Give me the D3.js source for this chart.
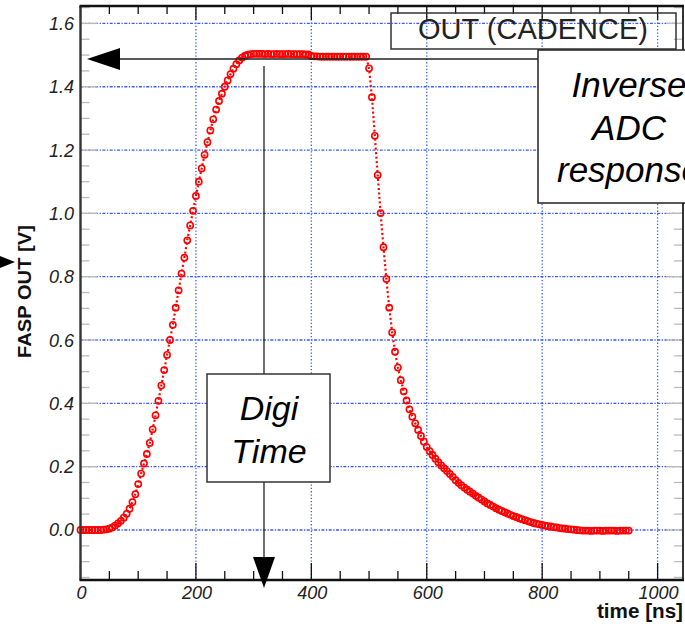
<!DOCTYPE html>
<html><head><meta charset="utf-8">
<script src="https://cdn.jsdelivr.net/npm/d3@7"></script>
<style>html,body{margin:0;padding:0;background:#fff;}svg{display:block;}</style>
</head><body>
<svg id="c" width="685" height="630"></svg>
<script>
// ---- data ----
const times = [0,5,10,15,20,25,30,35,40,45,50,55,60,65,70,75,80,85,90,95,
100,105,110,115,120,125,130,135,140,145,150,155,160,165,170,175,180,185,190,195,
200,205,210,215,220,225,230,235,240,245,250,255,260,265,270,275,280,285,290,295,
300,305,310,315,320,325,330,335,340,345,350,355,360,365,370,375,380,385,390,395,
400,405,410,415,420,425,430,435,440,445,450,455,460,465,470,475,480,485,490,495,
500,505,510,515,520,525,530,535,540,545,550,555,560,565,570,575,580,585,590,595,
600,605,610,615,620,625,630,635,640,645,650,655,660,665,670,675,680,685,690,695,
700,705,710,715,720,725,730,735,740,745,750,755,760,765,770,775,780,785,790,795,
800,805,810,815,820,825,830,835,840,845,850,855,860,865,870,875,880,885,890,895,
900,905,910,915,920,925,930,935,940,945,950];
const outValues = [0,0,0,0,0,0,0,0,0.001,0.002,0.004,0.008,0.014,0.021,0.029,0.039,0.051,0.067,0.088,0.113,
0.145,0.178,0.21,0.24,0.275,0.318,0.362,0.408,0.456,0.505,0.553,0.6,0.648,0.702,0.757,0.81,0.86,0.915,0.962,1.008,
1.055,1.1,1.142,1.185,1.225,1.262,1.297,1.328,1.355,1.378,1.4,1.42,1.44,1.457,1.471,1.483,1.492,1.498,1.501,1.503,
1.504,1.504,1.504,1.504,1.503,1.504,1.503,1.503,1.504,1.503,1.503,1.503,1.504,1.503,1.503,1.503,1.503,1.503,1.502,1.502,
1.497,1.496,1.496,1.495,1.495,1.495,1.495,1.495,1.495,1.495,1.495,1.495,1.495,1.495,1.495,1.495,1.495,1.495,1.495,1.495,
1.458,1.367,1.245,1.121,1.001,0.893,0.793,0.702,0.624,0.563,0.513,0.473,0.438,0.409,0.381,0.358,0.337,0.316,0.297,0.279,
0.262,0.249,0.237,0.225,0.214,0.204,0.195,0.186,0.177,0.168,0.157,0.149,0.141,0.134,0.127,0.121,0.115,0.108,0.102,0.096,
0.09,0.084,0.079,0.074,0.069,0.064,0.06,0.056,0.052,0.048,0.044,0.041,0.037,0.034,0.031,0.028,0.025,0.022,0.02,0.018,
0.016,0.014,0.012,0.011,0.009,0.008,0.006,0.005,0.004,0.003,0.002,0.001,0,-0.001,-0.002,-0.002,-0.002,-0.003,-0.002,-0.002,
-0.002,-0.003,-0.002,-0.002,-0.002,-0.002,-0.003,-0.002,-0.002,-0.002,-0.002];
const xMajorTicks = [0,200,400,600,800,1000];
const xTickLabels = ["0","200","400","600","800","1000"];
const yMajorTicks = [0,0.2,0.4,0.6,0.8,1.0,1.2,1.4,1.6];
const yTickLabels = ["0.0","0.2","0.4","0.6","0.8","1.0","1.2","1.4","1.6"];
const xTitle = "time [ns]";
const yTitle = "FASP OUT [V]";
const legendLabel = "OUT (CADENCE)";
const noteDigi = ["Digi","Time"];
const noteInverse = ["Inverse","ADC","response"];

// ---- layout ----
const L = 80.5, R = 683, T = 6, B = 580;
const x = d3.scaleLinear().domain([0, 1044]).range([L, R]);
const y = d3.scaleLinear().domain([-0.158, 1.655]).range([B, T]);
const svg = d3.select("#c");
const FF = "'Liberation Sans', Arial, Helvetica, sans-serif";
const gridCol = "#3a5cff";

const xMinor = d3.range(0, 1044, 50).filter(v => !xMajorTicks.includes(v));
const yMinor = d3.range(-0.15, 1.66, 0.05).map(v => +v.toFixed(2)).filter(v => !yMajorTicks.some(m => Math.abs(m - v) < 1e-6));

// grid
svg.append("g").selectAll("line").data(xMajorTicks.slice(1)).join("line")
  .attr("x1", d => x(d)).attr("x2", d => x(d)).attr("y1", T).attr("y2", B)
  .attr("stroke", gridCol).attr("stroke-width", 1.3).attr("stroke-dasharray", "1.3,2");
svg.append("g").selectAll("line").data(yMajorTicks).join("line")
  .attr("x1", L).attr("x2", R).attr("y1", d => y(d)).attr("y2", d => y(d))
  .attr("stroke", gridCol).attr("stroke-width", 1.3).attr("stroke-dasharray", "3,1.5,1.3,1.5");

// y ticks (gray)
const tg = svg.append("g");
tg.selectAll(".yl").data(yMajorTicks).join("line").attr("x1", L).attr("x2", L + 17)
  .attr("y1", d => y(d)).attr("y2", d => y(d)).attr("stroke", "#bbb").attr("stroke-width", 1.3);
tg.selectAll(".ylm").data(yMinor).join("line").attr("x1", L).attr("x2", L + 9)
  .attr("y1", d => y(d)).attr("y2", d => y(d)).attr("stroke", "#bbb").attr("stroke-width", 1.3);
tg.selectAll(".yr").data(yMajorTicks).join("line").attr("x1", R).attr("x2", R - 17)
  .attr("y1", d => y(d)).attr("y2", d => y(d)).attr("stroke", "#bbb").attr("stroke-width", 1.3);
tg.selectAll(".yrm").data(yMinor).join("line").attr("x1", R).attr("x2", R - 9)
  .attr("y1", d => y(d)).attr("y2", d => y(d)).attr("stroke", "#bbb").attr("stroke-width", 1.3);

// data line + markers
const pts = times.map((t, i) => [t, outValues[i]]);
svg.append("path").datum(pts)
  .attr("d", d3.line().x(d => x(d[0])).y(d => y(d[1])))
  .attr("fill", "none").attr("stroke", "#ff0000").attr("stroke-width", 2.2).attr("stroke-dasharray", "2,2.5");
svg.append("g").selectAll("circle").data(pts).join("circle")
  .attr("cx", d => x(d[0])).attr("cy", d => y(d[1])).attr("r", 3.1)
  .attr("fill", "none").attr("stroke", "#ff0000").attr("stroke-width", 1.6);

// x ticks (black)
const xt = svg.append("g");
xt.selectAll(".b").data(xMajorTicks).join("line").attr("x1", d => x(d)).attr("x2", d => x(d))
  .attr("y1", B).attr("y2", B - 17).attr("stroke", "#111").attr("stroke-width", 1.3);
xt.selectAll(".bm").data(xMinor).join("line").attr("x1", d => x(d)).attr("x2", d => x(d))
  .attr("y1", B).attr("y2", B - 9).attr("stroke", "#111").attr("stroke-width", 1.3);
xt.selectAll(".t").data(xMajorTicks).join("line").attr("x1", d => x(d)).attr("x2", d => x(d))
  .attr("y1", T).attr("y2", T + 14).attr("stroke", "#111").attr("stroke-width", 1.3);
xt.selectAll(".tm").data(xMinor).join("line").attr("x1", d => x(d)).attr("x2", d => x(d))
  .attr("y1", T).attr("y2", T + 8).attr("stroke", "#111").attr("stroke-width", 1.3);

// frame
svg.append("line").attr("x1", L).attr("x2", L).attr("y1", T).attr("y2", B).attr("stroke", "#333").attr("stroke-width", 2.4);
svg.append("line").attr("x1", R).attr("x2", R).attr("y1", T).attr("y2", B).attr("stroke", "#333").attr("stroke-width", 2);
svg.append("line").attr("x1", L - 1).attr("x2", R + 1).attr("y1", T).attr("y2", T).attr("stroke", "#111").attr("stroke-width", 2.4);
svg.append("line").attr("x1", L - 1).attr("x2", R + 1).attr("y1", B).attr("y2", B).attr("stroke", "#111").attr("stroke-width", 2.4);

// tick labels
svg.append("g").selectAll("text").data(yMajorTicks).join("text")
  .attr("x", 74).attr("y", d => y(d) + 6.5).attr("text-anchor", "end")
  .attr("font-family", FF).attr("font-style", "italic").attr("font-size", 18).attr("fill", "#222")
  .text((d, i) => yTickLabels[i]);
svg.append("g").selectAll("text").data(xMajorTicks).join("text")
  .attr("x", d => x(d) + 1).attr("y", 599).attr("text-anchor", "middle")
  .attr("font-family", FF).attr("font-style", "italic").attr("font-size", 18).attr("fill", "#222")
  .text((d, i) => xTickLabels[i]);

// axis titles
svg.append("text").attr("x", 683).attr("y", 618).attr("text-anchor", "end")
  .attr("font-family", FF).attr("font-weight", "bold").attr("font-size", 20).attr("fill", "#111")
  .attr("textLength", 86).attr("lengthAdjust", "spacingAndGlyphs").text(xTitle);
svg.append("text").attr("transform", "translate(31,291.5) rotate(-90)").attr("text-anchor", "middle")
  .attr("font-family", FF).attr("font-weight", "bold").attr("font-size", 18).attr("fill", "#111")
  .attr("textLength", 133).attr("lengthAdjust", "spacingAndGlyphs").text(yTitle);

// small arrow tip at left edge
svg.append("path").attr("d", "M0,256 L15,262 L0,268 Z").attr("fill", "#000");

// legend box (transparent)
svg.append("rect").attr("x", 391).attr("y", 13).attr("width", 285).attr("height", 36)
  .attr("fill", "none").attr("stroke", "#333").attr("stroke-width", 1.5);
svg.append("text").attr("x", 533).attr("y", 39).attr("text-anchor", "middle")
  .attr("font-family", FF).attr("font-size", 29).attr("fill", "#222").text(legendLabel);

// horizontal arrow
svg.append("line").attr("x1", 115).attr("x2", 538).attr("y1", 59).attr("y2", 59).attr("stroke", "#222").attr("stroke-width", 1.3);
svg.append("path").attr("d", "M87,59 L120,48 L120,70 Z").attr("fill", "#000");

// Inverse ADC response box
svg.append("rect").attr("x", 538).attr("y", 50).attr("width", 190).attr("height", 153)
  .attr("fill", "#fff").attr("stroke", "#222").attr("stroke-width", 1.5);
svg.append("g").selectAll("text").data(noteInverse).join("text")
  .attr("x", 629).attr("y", (d, i) => [97, 140, 182][i]).attr("text-anchor", "middle")
  .attr("font-family", FF).attr("font-style", "italic").attr("font-size", 35).attr("fill", "#000")
  .text(d => d);

// vertical arrow
svg.append("line").attr("x1", 264).attr("x2", 264).attr("y1", 66).attr("y2", 560).attr("stroke", "#222").attr("stroke-width", 1.3);
svg.append("path").attr("d", "M253,557 L275,557 L264,588 Z").attr("fill", "#000");

// Digi Time box
svg.append("rect").attr("x", 207).attr("y", 374).attr("width", 123).attr("height", 108)
  .attr("fill", "#fff").attr("stroke", "#333").attr("stroke-width", 1.5);
svg.append("g").selectAll("text").data(noteDigi).join("text")
  .attr("x", 269).attr("y", (d, i) => [420, 463][i]).attr("text-anchor", "middle")
  .attr("font-family", FF).attr("font-style", "italic").attr("font-size", 34).attr("fill", "#000")
  .text(d => d);
</script>
</body></html>
